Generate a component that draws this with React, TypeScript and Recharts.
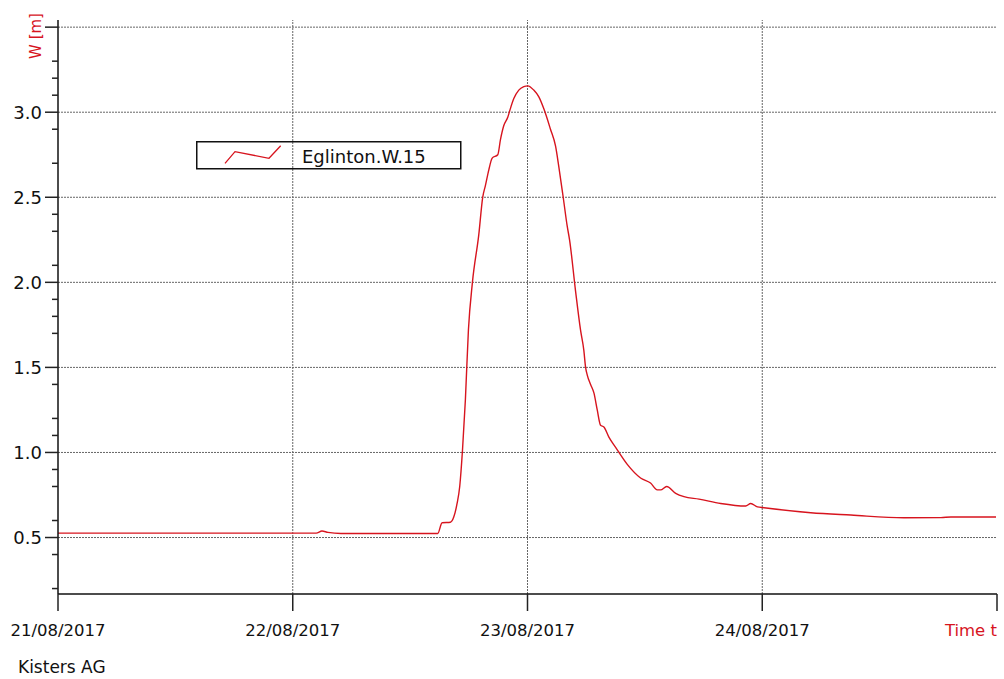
import { LineChart, Line, XAxis, YAxis, ReferenceLine } from 'recharts';

// hours since 21/08/2017 00:00
const hours = [
  0, 24.77, 26.4, 26.99, 27.6, 28.93, 38.82, 39.27, 40.12, 40.46, 40.8, 41.07, 41.35, 41.65,
  41.96, 42.37, 43.02, 43.42, 43.7, 44.04, 44.39, 44.96, 45.24, 45.57, 45.98, 46.19, 46.6,
  47.11, 47.62, 48.03, 48.64, 49.16, 49.67, 50.35, 50.87, 51.2, 51.65, 52.06, 52.3, 52.91,
  53.42, 53.76, 53.94, 54.11, 54.45, 54.79, 55.13, 55.47, 55.81, 56.32, 57.01, 58.2, 59.56,
  60.58, 61.27, 61.61, 62.23, 63.15, 64.0, 65.53, 67.75, 70.31, 70.82, 71.51, 72.18, 76.96,
  81.06, 86.48, 90.27, 91.29, 93.0, 95.9,
];
// water level W [m]
const level = [
  0.526, 0.526, 0.526, 0.538, 0.53, 0.524, 0.524, 0.587, 0.59, 0.62, 0.7, 0.8, 1.01, 1.31,
  1.72, 2.0, 2.28, 2.5, 2.57, 2.66, 2.73, 2.75, 2.84, 2.92, 2.97, 3.01, 3.08,
  3.13, 3.15, 3.155, 3.13, 3.09, 3.02, 2.9, 2.8, 2.68, 2.5, 2.33, 2.25, 1.95,
  1.72, 1.6, 1.5, 1.455, 1.4, 1.35, 1.25, 1.16, 1.15, 1.09, 1.03, 0.93, 0.85,
  0.82, 0.78, 0.78, 0.8, 0.76, 0.74, 0.726, 0.7, 0.685, 0.7, 0.68, 0.675, 0.646,
  0.632, 0.616, 0.617, 0.621, 0.621, 0.621,
];

const majorY = [0.5, 1.0, 1.5, 2.0, 2.5, 3.0, 3.5];
const minorY = [3.3, 3.2, 3.1, 2.9, 2.7, 2.4, 2.3, 2.1, 1.9, 1.8, 1.7, 1.4, 1.2, 1.1, 0.9, 0.8, 0.6, 0.4, 0.2];
const dayTicks = [0, 24, 48, 72, 96];
const dayLabels = ['21/08/2017', '22/08/2017', '23/08/2017', '24/08/2017', 'Time t'];
const seriesName = 'Eglinton.W.15';

const data = hours.map((t, i) => ({ t, w: level[i] }));

const RED = '#d7141e';
const FONT = '"DejaVu Sans", sans-serif';

const YTick = ({ x, y, payload }) => {
  const v = payload.value;
  const major = majorY.some((m) => Math.abs(m - v) < 1e-6);
  if (!major) {
    return <line x1={x - 6} x2={x} y1={y} y2={y} stroke='#222' strokeWidth={1.5} />;
  }
  return (
    <g>
      <line x1={x - 13} x2={x} y1={y} y2={y} stroke='#222' strokeWidth={1.5} />
      {v < 3.4 && (
        <text x={x - 16} y={y} dy={6.5} textAnchor='end' fontSize={18} fontFamily={FONT} fill='#111'>
          {v.toFixed(1)}
        </text>
      )}
    </g>
  );
};

const XTick = ({ x, y, payload, index }) => {
  const last = index === dayTicks.length - 1;
  return (
    <g>
      <line x1={x} x2={x} y1={y} y2={y + 17} stroke='#222' strokeWidth={1.5} />
      <text
        x={x}
        y={y + 42}
        textAnchor={last ? 'end' : 'middle'}
        fontSize={16.5}
        fontFamily={FONT}
        fill={last ? RED : '#111'}
      >
        {dayLabels[dayTicks.indexOf(payload.value)]}
      </text>
    </g>
  );
};

export default function App() {
  return (
    <div style={{ position: 'absolute', left: 0, top: 0, width: 1004, height: 679, background: '#fff' }}>
      <LineChart width={1004} height={679} data={data} margin={{ top: 20, right: 7, bottom: 0, left: 0 }}>
        <XAxis
          dataKey='t'
          type='number'
          domain={[0, 96]}
          ticks={dayTicks}
          tick={XTick}
          tickLine={false}
          tickSize={0}
          tickMargin={0}
          height={85}
          axisLine={{ stroke: '#111', strokeWidth: 1.5 }}
          interval={0}
        />
        <XAxis xAxisId='top' orientation='top' type='number' domain={[0, 96]} height={0} tick={false} tickLine={false} axisLine={{ stroke: '#444', strokeWidth: 1.5 }} />
        <YAxis
          type='number'
          domain={[0.168, 3.542]}
          allowDataOverflow
          ticks={[...majorY, ...minorY]}
          tick={YTick}
          tickLine={false}
          tickSize={0}
          tickMargin={0}
          width={58}
          interval={0}
          axisLine={{ stroke: '#111', strokeWidth: 1.5 }}
        />
        <YAxis yAxisId='right' orientation='right' type='number' domain={[0, 1]} width={0} tick={false} tickLine={false} axisLine={{ stroke: '#444', strokeWidth: 1.5 }} />
        {majorY.map((v) => (
          <ReferenceLine key={'h' + v} y={v} stroke='#666' strokeDasharray='2 1' />
        ))}
        {dayTicks.slice(1, -1).map((d) => (
          <ReferenceLine key={'v' + d} x={d} stroke='#666' strokeDasharray='2 1' />
        ))}
        <Line
          type='monotoneX'
          dataKey='w'
          name={seriesName}
          stroke={RED}
          strokeWidth={1.4}
          dot={false}
          isAnimationActive={false}
        />
      </LineChart>

      <div style={{ position: 'absolute', left: 196, top: 141 }}>
        <svg width={266} height={29}>
          <rect x={0.75} y={0.75} width={264} height={27} fill='none' stroke='#111' strokeWidth={1.5} />
          <polyline points='29,22.3 39,10.7 73,17.3 84.7,4.7' fill='none' stroke={RED} strokeWidth={1.3} />
          <text x={106} y={22} fontSize={18} fontFamily={FONT} fill='#111'>
            {seriesName}
          </text>
        </svg>
      </div>

      <div
        style={{
          position: 'absolute',
          left: 36,
          top: 36,
          transform: 'translate(-50%, -50%) rotate(-90deg)',
          color: RED,
          fontFamily: FONT,
          fontSize: 15,
          whiteSpace: 'nowrap',
          lineHeight: '16px',
        }}
      >
        W [m]
      </div>

      <div
        style={{
          position: 'absolute',
          left: 18,
          top: 656,
          fontFamily: FONT,
          fontSize: 17,
          lineHeight: '22px',
          color: '#111',
        }}
      >
        Kisters AG
      </div>
    </div>
  );
}
